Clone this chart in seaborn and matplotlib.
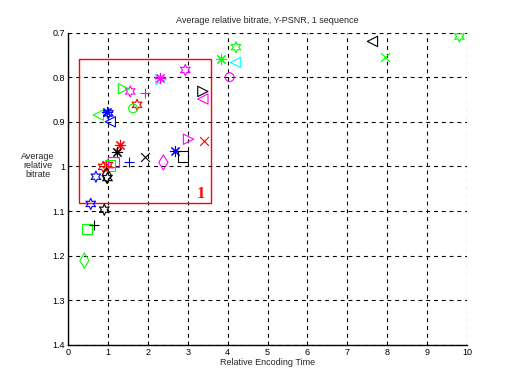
import matplotlib
matplotlib.use("Agg")
import matplotlib.pyplot as plt
import seaborn as sns
import pandas as pd
from matplotlib.patches import Rectangle

sns.set_style("white")
plt.rcParams['font.family'] = ['Liberation Sans', 'DejaVu Sans']

# Relative encoding time (x) and average relative bitrate (y) for each encoder configuration
enc_time = [9.81, 7.63, 7.95, 4.21, 3.84, 4.20, 4.05, 2.94, 2.33, 2.31,
            1.39, 1.56, 1.93, 3.38, 3.38, 1.73, 1.63, 0.76, 1.01, 0.98,
            1.06, 3.02, 3.42, 1.31, 1.22, 2.69, 1.14, 1.52, 1.93, 2.39,
            2.88, 0.88, 1.00, 0.95, 1.05, 0.70, 0.99, 0.97, 0.57, 0.91,
            0.64, 0.47, 0.41]
rel_bitrate = [0.709, 0.720, 0.754, 0.733, 0.760, 0.767, 0.800, 0.784, 0.805, 0.803,
               0.826, 0.832, 0.836, 0.832, 0.849, 0.862, 0.870, 0.885, 0.881, 0.878,
               0.900, 0.939, 0.942, 0.953, 0.967, 0.965, 0.990, 0.989, 0.979, 0.991,
               0.978, 1.001, 0.997, 1.000, 0.998, 1.023, 1.026, 1.020, 1.084, 1.097,
               1.131, 1.140, 1.211]
marker_codes = ['h', '<', 'x', 'h', '*', '<', 'o', 'h', '>', '*',
                '>', 'h', '+', '>', '<', 'h', 'o', '<', 'h', '*',
                '<', '>', 'x', '*', '*', '*', 's', '+', 'x', 'd',
                's', 'h', 'h', '+', 's', 'h', 'h', 'd', 'h', 'h',
                '+', 's', 'd']
color_codes = ['g', 'k', 'g', 'g', 'g', 'c', 'm', 'm', 'c', 'm',
               'g', 'm', 'm', 'k', 'm', 'r', 'g', 'g', 'b', 'b',
               'b', 'm', 'r', 'r', 'k', 'b', 'm', 'b', 'k', 'm',
               'k', 'r', 'r', 'r', 'g', 'b', 'k', 'k', 'b', 'k',
               'k', 'g', 'g']

x_ticks = [0, 1, 2, 3, 4, 5, 6, 7, 8, 9, 10]
y_ticks = [0.7, 0.8, 0.9, 1.0, 1.1, 1.2, 1.3, 1.4]
y_tick_labels = ['0.7', '0.8', '0.9', '1', '1.1', '1.2', '1.3', '1.4']

# highlighted region
box_x = [0.28, 3.59]
box_y = [0.759, 1.081]
box_label = "1"

df = pd.DataFrame({"time": enc_time, "bitrate": rel_bitrate,
                   "marker": marker_codes, "color": color_codes})

cmap = {'r': '#ff0000', 'g': '#00ff00', 'b': '#0000ff', 'c': '#00ffff',
        'm': '#ff00ff', 'k': '#000000'}
mmap = {'h': (6, 1, 0), '*': (8, 2, 0), '<': '<', '>': '>', 'x': 'x', '+': '+',
        'o': 'o', 's': 's', 'd': 'd'}
smap = {'h': 65, '*': 55, '<': 55, '>': 55, 'x': 40, '+': 55, 'o': 40, 's': 55, 'd': 60}
unfilled = {'*', 'x', '+'}

fig = plt.figure(figsize=(5.18, 3.78), dpi=100)
ax = fig.add_axes([68 / 518, 33 / 378, 399 / 518, 312.5 / 378])

for (mk, cc), g in df.groupby(["marker", "color"], sort=False):
    col = cmap[cc]
    if mk in unfilled:
        sns.scatterplot(data=g, x="time", y="bitrate", marker=mmap[mk], s=smap[mk],
                        color=col, linewidth=0.8, ax=ax, zorder=3, legend=False)
    else:
        sns.scatterplot(data=g, x="time", y="bitrate", marker=mmap[mk], s=smap[mk],
                        color=col, facecolor='none', edgecolor=col, linewidth=0.8,
                        ax=ax, zorder=3, legend=False)

ax.add_patch(Rectangle((box_x[0], box_y[0]), box_x[1] - box_x[0], box_y[1] - box_y[0],
                       fill=False, edgecolor='#ff0000', linewidth=1.0, zorder=2))
ax.text(3.33, 1.062, box_label, color='#ff0000', fontsize=12, fontweight='bold',
        family=['Liberation Serif', 'DejaVu Serif'], ha='center', va='center', zorder=4)

ax.set_xlim(0, 10)
ax.set_ylim(1.4, 0.7)
ax.set_xticks(x_ticks)
ax.set_xticklabels([str(t) for t in x_ticks])
ax.set_yticks(y_ticks)
ax.set_yticklabels(y_tick_labels)
ax.tick_params(direction='in', length=4, width=0.8, labelsize=6.5, colors='black', pad=2)
ax.grid(True, color='black', linestyle=(0, (3.5, 3.5)), linewidth=0.8)
ax.set_axisbelow(True)
for side in ['top', 'right']:
    ax.spines[side].set_visible(False)
for side in ['left', 'bottom']:
    ax.spines[side].set_color('black')
    ax.spines[side].set_linewidth(1.0)

ax.set_title("Average relative bitrate, Y-PSNR, 1 sequence", fontsize=6.5, pad=7)
ax.set_xlabel("Relative Encoding Time", fontsize=6.5, labelpad=1)
ax.set_ylabel("Average\nrelative\nbitrate", fontsize=6.5, rotation=0,
              ha='center', va='center', linespacing=1.0)
ax.yaxis.set_label_coords(-0.075, 0.573)

fig.savefig("out.png", dpi=100)
